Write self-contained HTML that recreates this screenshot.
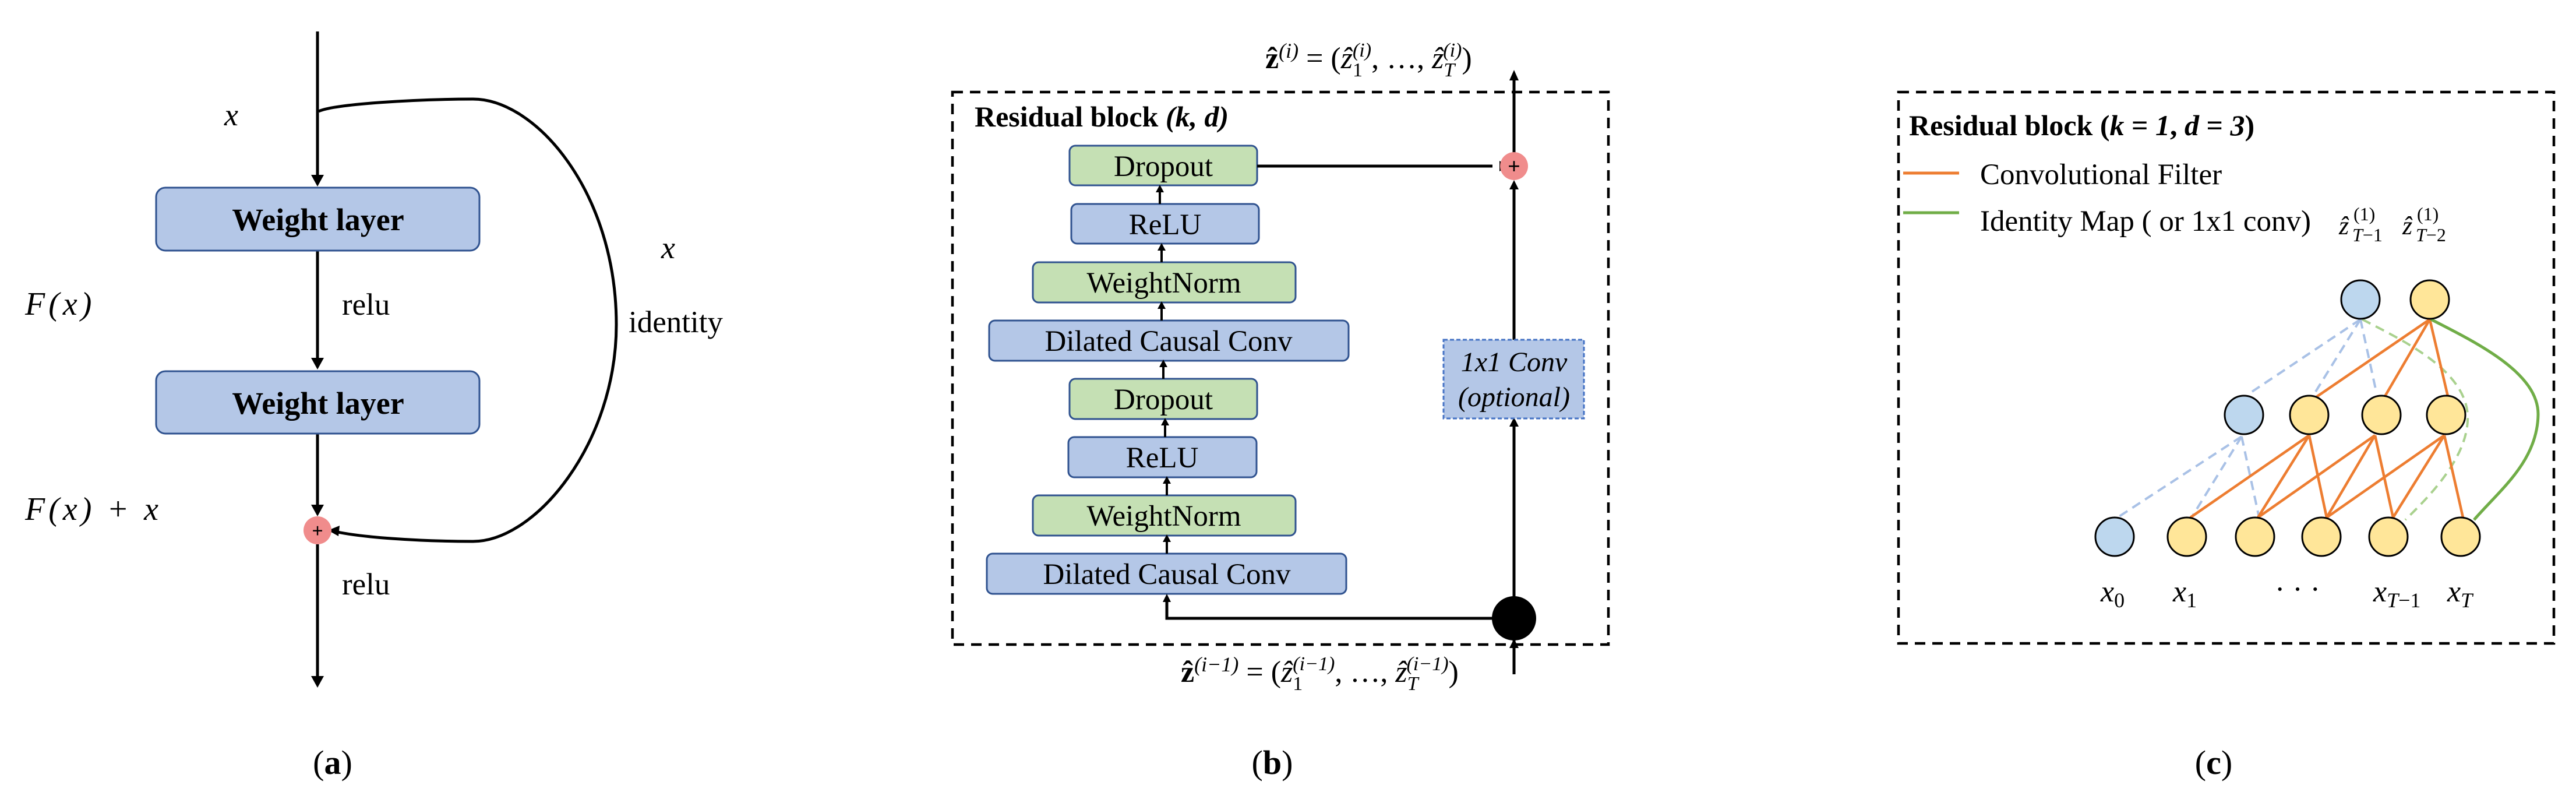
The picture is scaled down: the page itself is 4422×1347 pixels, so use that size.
<!DOCTYPE html>
<html><head><meta charset="utf-8"><style>
html,body{margin:0;padding:0;background:#fff;}
svg{display:block;}
text{font-family:"Liberation Serif",serif;fill:#000;}
</style></head><body>
<svg width="4422" height="1347" viewBox="0 0 4422 1347" xmlns="http://www.w3.org/2000/svg">
<!-- ===== (a) ===== -->
<g stroke="#000" stroke-width="5" fill="none">
<line x1="545" y1="54" x2="545" y2="312"/>
<line x1="545" y1="430" x2="545" y2="626"/>
<line x1="545" y1="744" x2="545" y2="878"/>
<line x1="545" y1="934" x2="545" y2="1172"/>
<path d="M547 191 C575 178 720 170 812 170 C920 170 1058 330 1058 557 C1058 760 920 929 812 929 C720 929 615 922 571 911"/>
</g>
<g fill="#000">
<polygon points="534,300 556,300 545,320"/>
<polygon points="534,614 556,614 545,634"/>
<polygon points="534,866 556,866 545,886"/>
<polygon points="534,1160 556,1160 545,1180"/>
<polygon points="563,910 583,902 581,920"/>
</g>
<rect x="268" y="322" width="555" height="108" rx="16" fill="#b4c7e7" stroke="#2f528f" stroke-width="3"/>
<rect x="268" y="637" width="555" height="107" rx="16" fill="#b4c7e7" stroke="#2f528f" stroke-width="3"/>
<text x="546" y="395" font-size="54" font-weight="bold" text-anchor="middle">Weight layer</text>
<text x="546" y="710" font-size="54" font-weight="bold" text-anchor="middle">Weight layer</text>
<circle cx="545" cy="910" r="24" fill="#f08c8c"/>
<text x="545" y="922" font-size="34" font-weight="bold" text-anchor="middle">+</text>
<text x="385" y="215" font-size="54" font-style="italic">x</text>
<text x="43" y="540" font-size="56" font-style="italic" letter-spacing="6">F(x)</text>
<text x="43" y="892" font-size="56" font-style="italic" letter-spacing="6">F(x) + x</text>
<text x="587" y="540" font-size="53">relu</text>
<text x="587" y="1020" font-size="53">relu</text>
<text x="1135" y="443" font-size="54" font-style="italic">x</text>
<text x="1079" y="570" font-size="53">identity</text>
<text x="571" y="1328" font-size="58" text-anchor="middle">(<tspan font-weight="bold">a</tspan>)</text>

<!-- ===== (b) ===== -->
<rect x="1635" y="158" width="1126" height="948" fill="none" stroke="#000" stroke-width="4.5" stroke-dasharray="18,12"/>
<text x="1673" y="217" font-size="50" font-weight="bold">Residual block <tspan font-style="italic">(k, d)</tspan></text>
<g stroke="#2f528f" stroke-width="3">
<rect x="1836" y="250" width="322" height="68" rx="10" fill="#c5e0b4"/>
<rect x="1839" y="350" width="322" height="68" rx="10" fill="#b4c7e7"/>
<rect x="1773" y="450" width="451" height="69" rx="10" fill="#c5e0b4"/>
<rect x="1698" y="550" width="617" height="69" rx="10" fill="#b4c7e7"/>
<rect x="1836" y="650" width="322" height="69" rx="10" fill="#c5e0b4"/>
<rect x="1834" y="750" width="323" height="69" rx="10" fill="#b4c7e7"/>
<rect x="1773" y="850" width="451" height="69" rx="10" fill="#c5e0b4"/>
<rect x="1694" y="950" width="617" height="69" rx="10" fill="#b4c7e7"/>
</g>
<g font-size="51" text-anchor="middle">
<text x="1997" y="302">Dropout</text>
<text x="2000" y="402">ReLU</text>
<text x="1998" y="502">WeightNorm</text>
<text x="2006" y="602">Dilated Causal Conv</text>
<text x="1997" y="702">Dropout</text>
<text x="1995" y="802">ReLU</text>
<text x="1998" y="902">WeightNorm</text>
<text x="2003" y="1002">Dilated Causal Conv</text>
</g>
<g stroke="#000" stroke-width="4">
<line x1="1991" y1="350" x2="1991" y2="326"/>
<line x1="1994" y1="450" x2="1994" y2="426"/>
<line x1="1994" y1="550" x2="1994" y2="526"/>
<line x1="1997" y1="650" x2="1997" y2="626"/>
<line x1="2000" y1="750" x2="2000" y2="726"/>
<line x1="2003" y1="850" x2="2003" y2="826"/>
<line x1="2003" y1="950" x2="2003" y2="926"/>
</g>
<g fill="#000">
<polygon points="1984,330 1998,330 1991,317"/>
<polygon points="1987,430 2001,430 1994,417"/>
<polygon points="1987,530 2001,530 1994,517"/>
<polygon points="1990,630 2004,630 1997,617"/>
<polygon points="1993,730 2007,730 2000,717"/>
<polygon points="1996,830 2010,830 2003,817"/>
<polygon points="1996,930 2010,930 2003,917"/>
<polygon points="1996,1033 2010,1033 2003,1019"/>
</g>
<g stroke="#000" stroke-width="5" fill="none">
<line x1="2158" y1="285" x2="2562" y2="285"/>
<line x1="2599" y1="1157" x2="2599" y2="728"/>
<line x1="2599" y1="583" x2="2599" y2="320"/>
<line x1="2599" y1="262" x2="2599" y2="135"/>
<polyline points="2599,1061 2003,1061 2003,1030"/>
</g>
<g fill="#000">
<polygon points="2574,276 2574,294 2591,285"/>
<polygon points="2591,325 2607,325 2599,309"/>
<polygon points="2591,732 2607,732 2599,716"/>
<polygon points="2591,138 2607,138 2599,120"/>
<polygon points="2591,1112 2607,1112 2599,1096"/>
</g>
<circle cx="2599" cy="285" r="24" fill="#f08c8c"/>
<text x="2599" y="298" font-size="38" font-weight="bold" text-anchor="middle">+</text>
<rect x="2478" y="583" width="241" height="135" fill="#b4c7e7" stroke="#4472c4" stroke-width="3" stroke-dasharray="7,4"/>
<text x="2599" y="637" font-size="48" font-style="italic" text-anchor="middle">1x1 Conv</text>
<text x="2599" y="697" font-size="48" font-style="italic" text-anchor="middle">(optional)</text>
<circle cx="2599" cy="1061" r="38" fill="#000"/>
<text x="2172" y="117" font-size="52"><tspan font-weight="bold">ẑ</tspan><tspan font-size="36" dy="-18" font-style="italic">(i)</tspan><tspan dy="18"> = (</tspan><tspan font-style="italic">ẑ</tspan><tspan font-size="34" dy="14">1</tspan><tspan font-size="34" dy="-34" dx="-17" font-style="italic">(i)</tspan><tspan dy="20">, …, </tspan><tspan font-style="italic">ẑ</tspan><tspan font-size="34" dy="14" font-style="italic">T</tspan><tspan font-size="34" dy="-34" dx="-20" font-style="italic">(i)</tspan><tspan dy="20">)</tspan></text>
<text x="2027" y="1170" font-size="52"><tspan font-weight="bold">ẑ</tspan><tspan font-size="36" dy="-18" font-style="italic">(i−1)</tspan><tspan dy="18"> = (</tspan><tspan font-style="italic">ẑ</tspan><tspan font-size="34" dy="14">1</tspan><tspan font-size="34" dy="-34" dx="-17" font-style="italic">(i−1)</tspan><tspan dy="20">, …, </tspan><tspan font-style="italic">ẑ</tspan><tspan font-size="34" dy="14" font-style="italic">T</tspan><tspan font-size="34" dy="-34" dx="-20" font-style="italic">(i−1)</tspan><tspan dy="20">)</tspan></text>
<text x="2184" y="1328" font-size="58" text-anchor="middle">(<tspan font-weight="bold">b</tspan>)</text>

<!-- ===== (c) ===== -->
<rect x="3259" y="158" width="1125" height="946" fill="none" stroke="#000" stroke-width="4.5" stroke-dasharray="18,12"/>
<text x="3277" y="232" font-size="50" font-weight="bold">Residual block (<tspan font-style="italic">k</tspan> = <tspan font-style="italic">1</tspan>, <tspan font-style="italic">d</tspan> = <tspan font-style="italic">3</tspan>)</text>
<line x1="3267" y1="297" x2="3363" y2="297" stroke="#ed7d31" stroke-width="5"/>
<line x1="3267" y1="365" x2="3363" y2="365" stroke="#70ad47" stroke-width="5"/>
<text x="3399" y="316" font-size="51">Convolutional Filter</text>
<text x="3399" y="396" font-size="51">Identity Map ( or 1x1 conv)</text>
<g font-size="44">
<text x="4015" y="402" font-style="italic">ẑ</text>
<text x="4038" y="414" font-size="32" font-style="italic">T<tspan font-style="normal">−1</tspan></text>
<text x="4040" y="378" font-size="32">(1)</text>
<text x="4124" y="402" font-style="italic">ẑ</text>
<text x="4147" y="414" font-size="32" font-style="italic">T<tspan font-style="normal">−2</tspan></text>
<text x="4149" y="378" font-size="32">(1)</text>
</g>
<g transform="translate(0,-8)">
<g stroke="#a9c1e6" stroke-width="4" stroke-dasharray="16,10" fill="none">
<line x1="4052" y1="556" x2="3866" y2="680"/>
<line x1="4052" y1="556" x2="3970" y2="688"/>
<line x1="4052" y1="556" x2="4079" y2="680"/>
<line x1="3848" y1="757" x2="3635" y2="896"/>
<line x1="3848" y1="757" x2="3762" y2="896"/>
<line x1="3848" y1="757" x2="3878" y2="896"/>
</g>
<path d="M4055 556 C4120 590 4230 640 4236 719 C4240 790 4170 860 4129 900" stroke="#a9d18e" stroke-width="4" stroke-dasharray="16,10" fill="none"/>
<g stroke="#ed7d31" stroke-width="4.5" fill="none">
<line x1="4171" y1="556" x2="3975" y2="690"/>
<line x1="4171" y1="556" x2="4094" y2="688"/>
<line x1="4171" y1="556" x2="4202" y2="688"/>
<line x1="3964" y1="755" x2="3760" y2="896"/>
<line x1="3964" y1="755" x2="3876" y2="896"/>
<line x1="3964" y1="755" x2="3994" y2="896"/>
<line x1="4077" y1="755" x2="3876" y2="896"/>
<line x1="4077" y1="755" x2="3994" y2="896"/>
<line x1="4077" y1="755" x2="4108" y2="896"/>
<line x1="4196" y1="755" x2="3994" y2="896"/>
<line x1="4196" y1="755" x2="4108" y2="896"/>
<line x1="4196" y1="755" x2="4228" y2="896"/>
</g>
<path d="M4173 556 C4260 600 4357 650 4357 719 C4356 800 4290 850 4247 900" stroke="#70ad47" stroke-width="5" fill="none"/>
<g stroke="#000" stroke-width="3">
<circle cx="4052" cy="522" r="33" fill="#bdd7ee"/>
<circle cx="4171" cy="522" r="33" fill="#ffe699"/>
<circle cx="3852" cy="720" r="33" fill="#bdd7ee"/>
<circle cx="3964" cy="720" r="33" fill="#ffe699"/>
<circle cx="4088" cy="720" r="33" fill="#ffe699"/>
<circle cx="4199" cy="720" r="33" fill="#ffe699"/>
<circle cx="3630" cy="929" r="33" fill="#bdd7ee"/>
<circle cx="3754" cy="929" r="33" fill="#ffe699"/>
<circle cx="3871" cy="929" r="33" fill="#ffe699"/>
<circle cx="3985" cy="929" r="33" fill="#ffe699"/>
<circle cx="4100" cy="929" r="33" fill="#ffe699"/>
<circle cx="4224" cy="929" r="33" fill="#ffe699"/>
</g>
<g font-size="52" font-style="italic">
<text x="3606" y="1040">x<tspan font-size="36" dy="10" font-style="normal">0</tspan></text>
<text x="3730" y="1040">x<tspan font-size="36" dy="10" font-style="normal">1</tspan></text>
<text x="3905" y="1036" font-style="normal">· · ·</text>
<text x="4074" y="1040">x<tspan font-size="36" dy="10">T</tspan><tspan font-size="36" font-style="normal">−1</tspan></text>
<text x="4201" y="1040">x<tspan font-size="36" dy="10">T</tspan></text>
</g>
</g>
<text x="3800" y="1328" font-size="58" text-anchor="middle">(<tspan font-weight="bold">c</tspan>)</text>
</svg>
</body></html>
